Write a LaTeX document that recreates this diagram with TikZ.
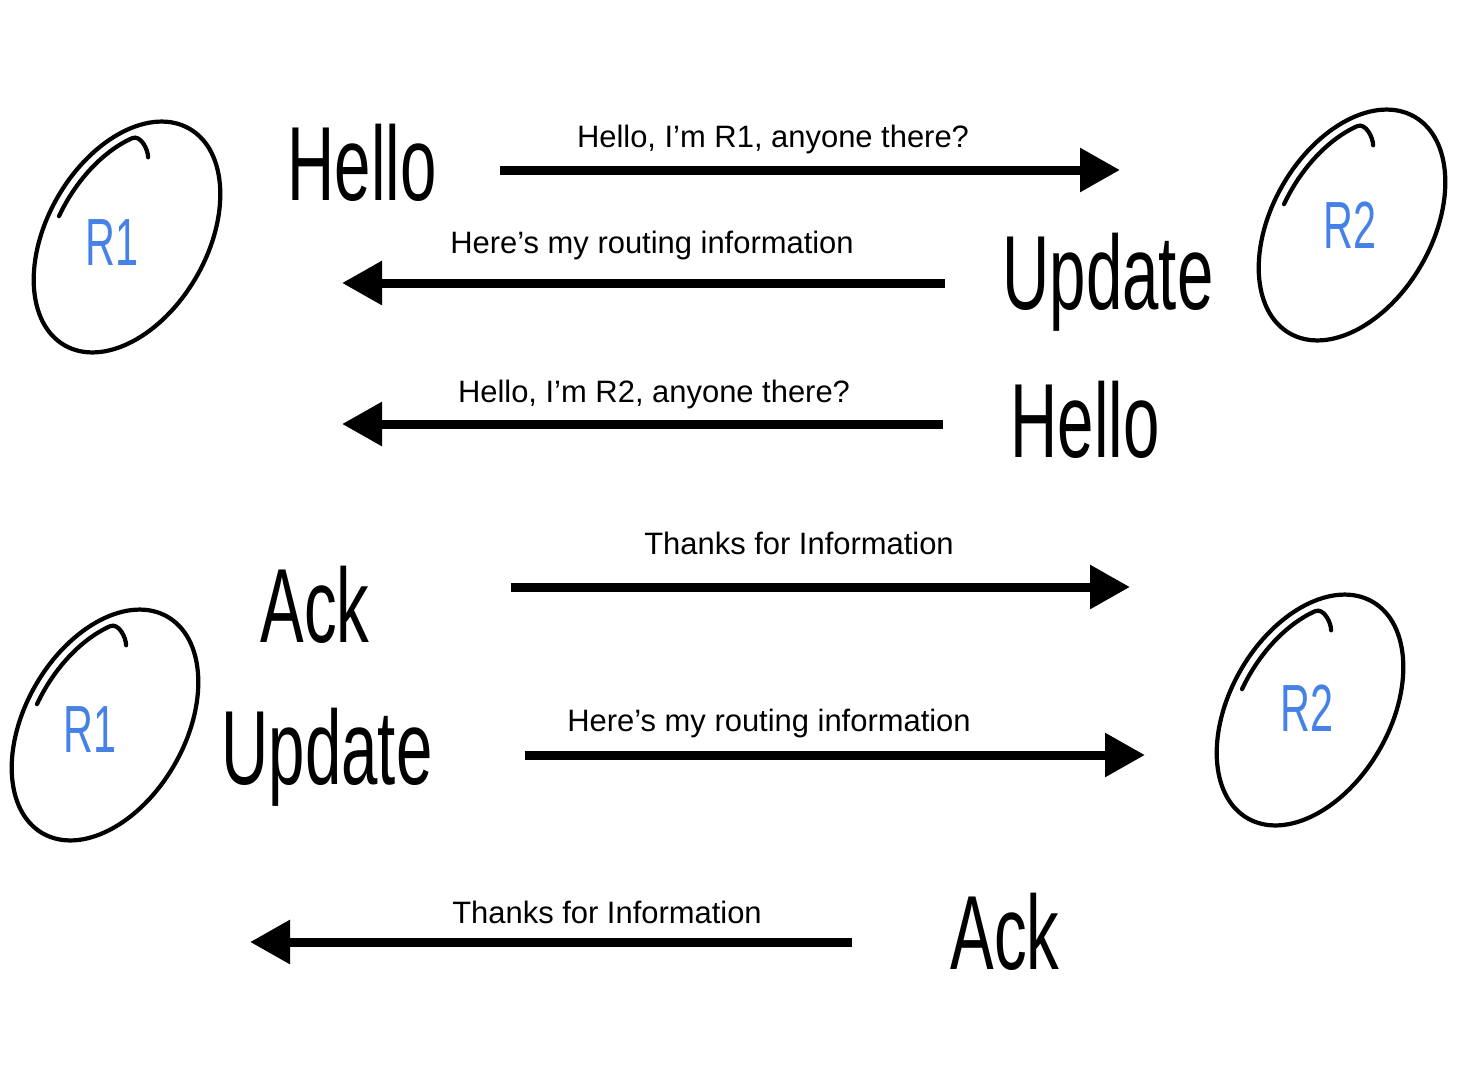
\documentclass[tikz,border=0pt]{standalone}
\usepackage{fontspec}
\setmainfont{Liberation Sans}
\usetikzlibrary{positioning,shapes.geometric,arrows.meta}

\definecolor{penblue}{RGB}{70,130,230}

\tikzset{
    router/.style={ellipse, draw, line width=1.2pt, minimum width=2.5cm, minimum height=1.6cm, rotate=60},
    pen/.style={line width=1.2pt, line cap=round},
    msg/.style={line width=0.9mm, -{Triangle[length=4mm,width=4.2mm]}},
    msgtext/.style={font=\fontsize{8.8}{10}\selectfont},
    scribble/.style={font=\fontsize{30}{30}\selectfont},
    rname/.style={font=\fontsize{19}{19}\selectfont, text=penblue},
}

\newcommand{\handword}[1]{\scalebox{0.62}[1]{#1}}
% second pen stroke along the upper edge of a router, ending in a hook
\newcommand{\routerhook}[1]{%
    \draw[pen, shift={(#1.center)}, rotate=60] (98:1.15 and 0.70)
        arc[start angle=98, end angle=40, x radius=1.15, y radius=0.70]
        .. controls (0.955,0.396) and (0.865,0.256) .. (0.796,0.216);}

\begin{document}
\begin{tikzpicture}
    \useasboundingbox (0,0) rectangle (14.82,10.64);

    % Routers, first exchange
    \node[router] (r1a) at (1.27,8.27) {};
    \node[router] (r2a) at (13.52,8.39) {};
    \node[rname] (r1alabel) at (1.12,8.21) {\handword{R1}};
    \node[rname] (r2alabel) at (13.50,8.39) {\handword{R2}};
    \routerhook{r1a}
    \routerhook{r2a}

    % Routers, second exchange
    \node[router] (r1b) at (1.05,3.39) {};
    \node[router] (r2b) at (13.10,3.54) {};
    \node[rname] (r1blabel) at (0.90,3.34) {\handword{R1}};
    \node[rname] (r2blabel) at (13.07,3.56) {\handword{R2}};
    \routerhook{r1b}
    \routerhook{r2b}

    % Handwritten message names
    \node[scribble] (hello1) at (3.62,9.01) {\handword{Hello}};
    \node[scribble] (update1) at (11.08,7.82) {\handword{Update}};
    \node[scribble] (hello2) at (10.85,6.44) {\handword{Hello}};
    \node[scribble] (ack1) at (3.15,4.59) {\handword{Ack}};
    \node[scribble] (update2) at (3.27,3.07) {\handword{Update}};
    \node[scribble] (ack2) at (10.05,1.32) {\handword{Ack}};

    % Arrow end points
    \coordinate (m1s) at (5.00,8.94);  \coordinate (m1e) at (11.20,8.94);
    \coordinate (m2s) at (9.45,7.81);  \coordinate (m2e) at (3.42,7.81);
    \coordinate (m3s) at (9.43,6.40);  \coordinate (m3e) at (3.42,6.40);
    \coordinate (m4s) at (5.11,4.77);  \coordinate (m4e) at (11.30,4.77);
    \coordinate (m5s) at (5.25,3.09);  \coordinate (m5e) at (11.45,3.09);
    \coordinate (m6s) at (8.52,1.22);  \coordinate (m6e) at (2.50,1.22);

    % Messages
    \draw[msg] (m1s) -- (m1e);
    \node[msgtext] (t1) at (7.73,9.24) {Hello, I’m R1, anyone there?};

    \draw[msg] (m2s) -- (m2e);
    \node[msgtext] (t2) at (6.52,8.19) {Here’s my routing information};

    \draw[msg] (m3s) -- (m3e);
    \node[msgtext] (t3) at (6.54,6.70) {Hello, I’m R2, anyone there?};

    \draw[msg] (m4s) -- (m4e);
    \node[msgtext] (t4) at (7.99,5.21) {Thanks for Information};

    \draw[msg] (m5s) -- (m5e);
    \node[msgtext] (t5) at (7.69,3.41) {Here’s my routing information};

    \draw[msg] (m6s) -- (m6e);
    \node[msgtext] (t6) at (6.07,1.52) {Thanks for Information};

\end{tikzpicture}
\end{document}
